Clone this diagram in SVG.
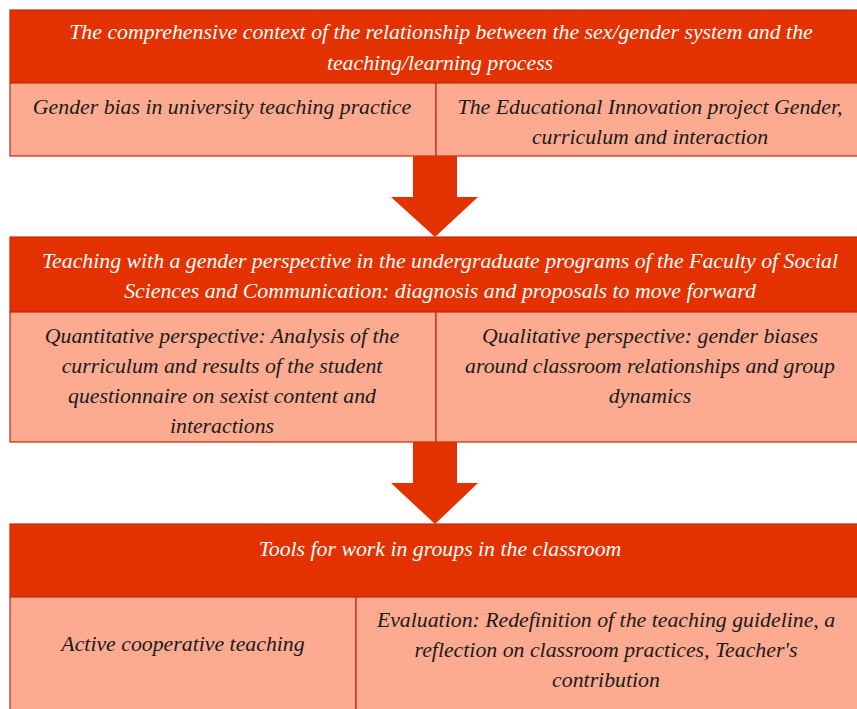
<svg xmlns="http://www.w3.org/2000/svg" width="857" height="709" viewBox="0 0 857 709">
<style>
.hd{fill:#E33200;stroke:#C42A10;stroke-width:1.2}
.sb{fill:#FCAB91;stroke:#C42A10;stroke-width:1.2}
.arrow{fill:#E33200}
text{font-family:"Liberation Serif","Times New Roman",serif;font-style:italic;font-size:21.8px;text-anchor:middle}
.w{fill:#ffffff}
.k{fill:#1a1a1a}
</style>
<rect width="857" height="709" fill="#ffffff"/>
<g id="node1">
<rect class="hd" x="10" y="10" width="848" height="73"/>
<text class="w" x="441" y="39">The comprehensive context of the relationship between the sex/gender system and the</text>
<text class="w" x="440" y="70">teaching/learning process</text>
</g>
<g id="node1a">
<rect class="sb" x="10" y="83" width="426" height="73"/>
<text class="k" x="222" y="114">Gender bias in university teaching practice</text>
</g>
<g id="node1b">
<rect class="sb" x="436" y="83" width="422" height="73"/>
<text class="k" x="650" y="114">The Educational Innovation project Gender,</text>
<text class="k" x="650" y="144">curriculum and interaction</text>
</g>
<g id="node2">
<rect class="hd" x="10" y="237" width="848" height="75"/>
<text class="w" x="440" y="268">Teaching with a gender perspective in the undergraduate programs of the Faculty of Social</text>
<text class="w" x="440" y="298">Sciences and Communication: diagnosis and proposals to move forward</text>
</g>
<g id="node2a">
<rect class="sb" x="10" y="312" width="426" height="130"/>
<text class="k" x="222" y="343">Quantitative perspective: Analysis of the</text>
<text class="k" x="222" y="373">curriculum and results of the student</text>
<text class="k" x="222" y="403">questionnaire on sexist content and</text>
<text class="k" x="222" y="433">interactions</text>
</g>
<g id="node2b">
<rect class="sb" x="436" y="312" width="422" height="130"/>
<text class="k" x="650" y="343">Qualitative perspective: gender biases</text>
<text class="k" x="650" y="373">around classroom relationships and group</text>
<text class="k" x="650" y="403">dynamics</text>
</g>
<g id="node3">
<rect class="hd" x="10" y="524" width="848" height="73"/>
<text class="w" x="440" y="556">Tools for work in groups in the classroom</text>
</g>
<g id="node3a">
<rect class="sb" x="10" y="597" width="346" height="120"/>
<text class="k" x="183" y="651">Active cooperative teaching</text>
</g>
<g id="node3b">
<rect class="sb" x="356" y="597" width="502" height="120"/>
<text class="k" x="606" y="627">Evaluation: Redefinition of the teaching guideline, a</text>
<text class="k" x="606" y="657">reflection on classroom practices, Teacher's</text>
<text class="k" x="606" y="687">contribution</text>
</g>
<g id="connectors">
<polygon class="arrow" points="413,156 457,156 457,197 478,197 435,237 391,197 413,197"/>
<polygon class="arrow" points="413,442 457,442 457,483 478,483 435,524 391,483 413,483"/>
</g>
</svg>
